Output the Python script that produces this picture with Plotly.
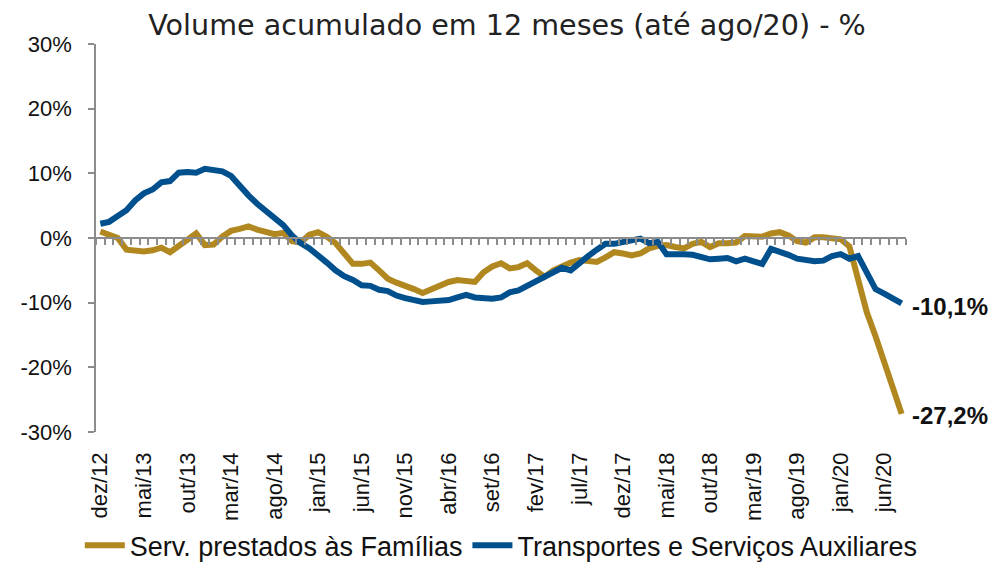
import plotly.graph_objects as go

months = ["jan", "fev", "mar", "abr", "mai", "jun", "jul", "ago", "set", "out", "nov", "dez"]
# monthly categories dez/12 .. ago/20
categories = []
y0, m0 = 2012, 11
for k in range(93):
    m = (m0 + k) % 12
    y = y0 + (m0 + k) // 12
    categories.append(f"{months[m]}/{str(y)[2:]}")

familias = [
    1.0, 0.6, 0.0, -1.8, -2.0, -2.1, -1.9, -1.5, -2.2, -1.3,
    -0.3, 0.7, -1.1, -1.0, 0.2, 1.1, 1.4, 1.8, 1.3, 0.9,
    0.6, 0.8, -0.5, -0.7, 0.5, 0.9, 0.2, -0.8, -2.3, -4.0,
    -4.0, -3.8, -5.0, -6.3, -6.9, -7.3, -7.9, -8.5, -7.9, -7.3,
    -6.8, -6.5, -6.7, -6.8, -5.3, -4.4, -3.9, -4.7, -4.5, -3.9,
    -5.0, -6.0, -5.0, -4.3, -3.8, -3.4, -3.6, -3.7, -3.0, -2.2,
    -2.4, -2.7, -2.4, -1.6, -1.2, -1.1, -1.4, -1.6, -0.9, -0.6,
    -1.4, -0.8, -0.8, -0.7, 0.3, 0.3, 0.2, 0.7, 0.9, 0.4,
    -0.5, -0.7, 0.1, 0.1, 0.0, -0.2, -1.3, -6.5, -11.5, -15.2,
    -19.2, -23.4, -27.2,
]

transportes = [
    2.2, 2.5, 3.4, 4.3, 5.8, 6.9, 7.5, 8.6, 8.8, 10.1,
    10.2, 10.1, 10.7, 10.6, 10.3, 9.6, 8.0, 6.6, 5.3, 4.1,
    2.9, 2.0, 0.4, -0.8, -1.6, -2.6, -3.8, -5.0, -5.9, -6.5,
    -7.3, -7.4, -8.0, -8.2, -8.9, -9.3, -9.7, -9.9, -9.8, -9.7,
    -9.6, -9.2, -8.8, -9.2, -9.4, -9.4, -9.2, -8.4, -8.1, -7.4,
    -6.7, -6.1, -5.4, -4.6, -5.0, -3.8, -2.8, -1.8, -0.9, -0.9,
    -0.6, -0.3, -0.1, -0.8, -0.6, -2.5, -2.4, -2.5, -2.6, -2.9,
    -3.3, -3.2, -3.1, -3.6, -3.2, -3.6, -4.0, -1.7, -2.1, -2.6,
    -3.2, -3.5, -3.6, -3.5, -2.8, -2.5, -3.2, -2.8, -5.6, -7.9,
    -8.6, -9.4, -10.1,
]

y_ticks = [-30, -20, -10, 0, 10, 20, 30]
y_ticktext = [f"{v}%" for v in y_ticks]
label_step = 5
end_labels = ["-27,2%", "-10,1%"]

GOLD = "#B1881F"
BLUE = "#00508E"
AXIS = "#8C8C8C"

x = list(range(len(categories)))
tickvals = x[::label_step]
ticktext = categories[::label_step]

fig = go.Figure()
fig.add_trace(go.Scatter(x=x, y=familias, mode="lines", name="Serv. prestados às Famílias",
                         line=dict(color=GOLD, width=6)))
fig.add_trace(go.Scatter(x=x, y=transportes, mode="lines", name="Transportes e Serviços Auxiliares",
                         line=dict(color=BLUE, width=6)))
# invisible trace to carry the crossing axis at y=0
fig.add_trace(go.Scatter(x=[x[0]], y=[0], xaxis="x2", mode="markers",
                         marker=dict(opacity=0), showlegend=False, hoverinfo="skip"))

fig.add_annotation(x=x[-1], y=familias[-1], text=f"<b>{end_labels[0]}</b>", showarrow=False,
                   xanchor="left", yanchor="middle", xshift=8, yshift=-2,
                   font=dict(family="Liberation Sans, Arial", size=24, color="#111"))
fig.add_annotation(x=x[-1], y=transportes[-1], text=f"<b>{end_labels[1]}</b>", showarrow=False,
                   xanchor="left", yanchor="middle", xshift=8, yshift=-3,
                   font=dict(family="Liberation Sans, Arial", size=24, color="#111"))

rng = [-0.5, len(categories) - 0.5]
fig.update_layout(
    width=998, height=575,
    margin=dict(l=85, r=100, t=36, b=151),
    paper_bgcolor="white", plot_bgcolor="white",
    title=dict(text="Volume acumulado em 12 meses (até ago/20) - %",
               x=0.5, xref="container", xanchor="center", y=0.97, yanchor="middle",
               font=dict(family="DejaVu Sans", size=28.6, color="#222")),
    xaxis=dict(range=rng, tickvals=tickvals, ticktext=ticktext, tickangle=-90,
               showline=False, showgrid=False, zeroline=False, ticks="",
               ticklabelstandoff=15,
               tickfont=dict(family="Liberation Sans, Arial", size=22, color="#111")),
    xaxis2=dict(range=rng, overlaying="x", anchor="free", position=0.5, side="bottom",
                showline=True, linecolor=AXIS, linewidth=1.5, ticks="outside",
                tick0=-0.5, dtick=1, ticklen=6, tickcolor=AXIS, tickwidth=1.5,
                showticklabels=False, showgrid=False, zeroline=False),
    yaxis=dict(range=[-30, 30], tickvals=y_ticks, ticktext=y_ticktext,
               showline=True, linecolor=AXIS, linewidth=1.5, ticks="outside",
               ticklen=6, tickcolor=AXIS, tickwidth=1.5, showgrid=False, zeroline=False,
               ticklabelstandoff=12,
               tickfont=dict(family="Liberation Sans, Arial", size=22, color="#111")),
    legend=dict(orientation="h", x=-0.02, xanchor="left",
                y=-0.293, yanchor="middle",
                font=dict(family="Liberation Sans, Arial", size=27, color="#111"),
                itemwidth=40, tracegroupgap=0),
    showlegend=True,
)

fig.write_html("out.html")
